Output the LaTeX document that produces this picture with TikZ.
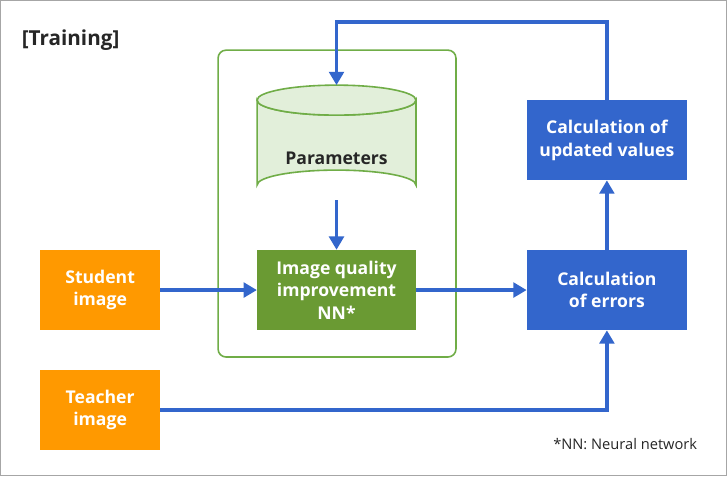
\documentclass[tikz,border=0pt]{standalone}
\usepackage{fontspec}
\setmainfont{Open Sans}
\usetikzlibrary{arrows.meta}
\definecolor{org}{HTML}{FF9900}
\definecolor{blu}{HTML}{3366CC}
\definecolor{grn}{HTML}{6A9A33}
\definecolor{lgrn}{HTML}{E2EFDA}
\definecolor{gline}{HTML}{70AD47}
\begin{document}
\begin{tikzpicture}[x=0.75pt,y=-0.75pt,
  box/.style={text=white, font=\bfseries\fontsize{13.2}{17}\selectfont, align=center, inner sep=0pt},
  ob/.style={box, fill=org, minimum width=90pt, minimum height=60pt},
  bb/.style={box, fill=blu, minimum width=120pt, minimum height=60pt},
  arr/.style={blu, line width=2.5pt, -{Triangle[length=10pt,width=11pt]}}]
\draw[gray!70, line width=1pt, fill=white] (0.5,0.5) rectangle (726.5,475.5);
\node[anchor=west, font=\bfseries\fontsize{15.5}{18}\selectfont, text=black!85] (title) at (17,40) {[Training]};
\draw[gline, line width=1.2pt, rounded corners=6pt] (218,50) rectangle (456,357);
% cylinder
\draw[gline, line width=1.2pt, fill=lgrn] (257,100) -- (257,185) arc[start angle=180, end angle=360, x radius=79.5, y radius=15] -- (416,100) arc[start angle=0, end angle=180, x radius=79.5, y radius=15] -- cycle;
\draw[gline, line width=1.2pt, fill=lgrn] (336.5,100) ellipse[x radius=79.5, y radius=15];
\node[font=\bfseries\fontsize{13.2}{16}\selectfont, text=black!85] (par) at (336.5,158) {Parameters};
\coordinate (cyltop) at (336.5,85);
\coordinate (cylbot) at (336.5,200);
\node[box, fill=grn, minimum width=119pt, minimum height=60pt] (nn) at (336.5,290) {Image quality\\improvement\\NN*};
\node[ob] (stu) at (100,290) {Student\\image};
\node[ob] (tea) at (100,410) {Teacher\\image};
\node[bb] (err) at (607,290) {Calculation\\of errors};
\node[bb] (upd) at (607,140) {Calculation of\\updated values};
\node[anchor=east, font=\fontsize{11}{13}\selectfont, text=black!85] (fn) at (702,444) {*NN: Neural network};
\draw[arr] (cylbot) -- (nn.north);
\draw[arr] (stu.east) -- (nn.west);
\draw[arr] (nn.east) -- (err.west);
\draw[arr] (err.north) -- (upd.south);
\draw[arr] (upd.north) -- (607,22) -- (336.5,22) -- (cyltop);
\draw[arr] (tea.east) -- (607,410) -- (err.south);
\end{tikzpicture}
\end{document}
